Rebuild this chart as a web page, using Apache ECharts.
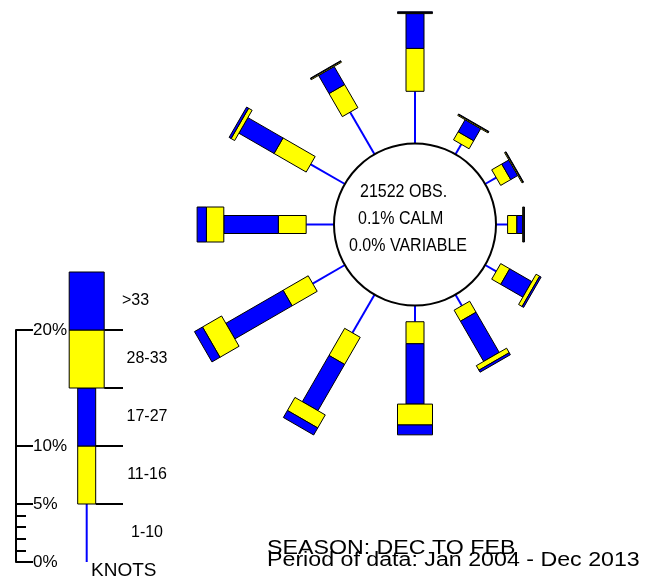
<!DOCTYPE html>
<html>
<head>
<meta charset="utf-8">
<script src="https://cdn.jsdelivr.net/npm/echarts@6/dist/echarts.min.js"></script>
<style>
  html, body { margin: 0; padding: 0; background: #fff; }
  #chart { width: 657px; height: 586px; }
</style>
</head>
<body>
<div id="chart"></div>
<script>
// Wind directions (degrees clockwise from north), 30-degree sectors
const ANGLES = [0, 30, 60, 90, 120, 150, 180, 210, 240, 270, 300, 330];

// Percentage frequency per speed class (knots) for each direction
const KT_1_10    = [4.5, 1.0, 1.1, 1.0, 1.1, 1.1, 1.4, 3.8, 3.2, 2.4, 3.4, 4.2];
const KT_11_16   = [3.7, 0.8, 1.0, 0.8, 0.9, 1.1, 1.9, 2.7, 2.5, 2.4, 3.2, 2.3];
const KT_17_27   = [3.0, 1.2, 0.7, 0.5, 2.2, 4.0, 5.2, 4.6, 5.7, 4.7, 3.5, 1.8];
const KT_28_33   = [0.1, 0.1, 0.1, 0.1, 0.35, 0.45, 1.8, 1.3, 1.9, 1.5, 0.35, 0.1];
const KT_OVER_33 = [0.05, 0.05, 0.05, 0.05, 0.15, 0.2, 0.85, 0.7, 0.8, 0.8, 0.2, 0.05];

// Speed-class key
const KEY_LABELS = ['1-10', '11-16', '17-27', '28-33', '>33'];
const KEY_STEPS = [0, 5, 10, 15, 20, 25];
const SCALE_LABEL_TICKS = [0, 5, 10, 20];
const SCALE_MINOR_TICKS = [1, 2, 3, 4];

// Summary text
const SUMMARY_LINES = ['21522 OBS.', '0.1% CALM', '0.0% VARIABLE'];
const TITLE_LINE = 'SEASON: DEC TO FEB';
const PERIOD_LINE = 'Period of data: Jan 2004 - Dec 2013';
const UNIT_LABEL = 'KNOTS';

const BANDS = [KT_1_10, KT_11_16, KT_17_27, KT_28_33, KT_OVER_33];
const BLUE = '#0000ff', YELLOW = '#ffff00';
const BAND_COLOR = [BLUE, YELLOW, BLUE, YELLOW, BLUE];
const BAND_WIDTH = [2, 18, 18, 35, 35];
const FONT = '"Liberation Sans", Arial, sans-serif';

const CX = 415, CY = 224.5, HOLE = 81;
const RADIAL_MAX = 30, PX_PER_PCT = 11.6;

// stacked segments: [start, angle, end, band]
const roseData = [];
ANGLES.forEach((a, i) => {
  let acc = 0;
  BANDS.forEach((arr, b) => {
    roseData.push([acc, a, acc + arr[i], b]);
    acc += arr[i];
  });
});

// key segments: [x, start, end, band]
const KEY_X = 70.7;
const keyData = KEY_LABELS.map((_, b) => [KEY_X, KEY_STEPS[b], KEY_STEPS[b + 1], b]);

function renderRose(params, api) {
  const s = api.value(0), a = api.value(1), e = api.value(2), b = api.value(3);
  const p0 = api.coord([s, a]);
  const p1 = api.coord([e, a]);
  const q0 = api.coord([0, a]);
  const q1 = api.coord([RADIAL_MAX, a]);
  let dx = q1[0] - q0[0], dy = q1[1] - q0[1];
  const len = Math.hypot(dx, dy);
  dx /= len; dy /= len;
  const nx = -dy, ny = dx;
  if (b === 0) {
    return {
      type: 'line',
      shape: { x1: p0[0], y1: p0[1], x2: p1[0], y2: p1[1] },
      style: { stroke: BLUE, lineWidth: 2 }
    };
  }
  const h = BAND_WIDTH[b] / 2;
  return {
    type: 'polygon',
    shape: {
      points: [
        [p0[0] + nx * h, p0[1] + ny * h],
        [p1[0] + nx * h, p1[1] + ny * h],
        [p1[0] - nx * h, p1[1] - ny * h],
        [p0[0] - nx * h, p0[1] - ny * h]
      ]
    },
    style: { fill: BAND_COLOR[b], stroke: '#000', lineWidth: 1 }
  };
}

const SEPARATOR_END_X = 123;
const KEY_TEXT_X = 147;

function renderKey(params, api) {
  const x = api.value(0), s = api.value(1), e = api.value(2), b = api.value(3);
  const p0 = api.coord([x, s]);
  const p1 = api.coord([x, e]);
  const pm = api.coord([x, (s + e) / 2]);
  const children = [];
  if (b === 0) {
    children.push({
      type: 'line',
      shape: { x1: p0[0], y1: p0[1], x2: p1[0], y2: p1[1] },
      style: { stroke: BLUE, lineWidth: 2 }
    });
  } else {
    const w = BAND_WIDTH[b];
    children.push({
      type: 'rect',
      shape: { x: p0[0] - w / 2, y: p1[1], width: w, height: p0[1] - p1[1] },
      style: { fill: BAND_COLOR[b], stroke: '#000', lineWidth: 1 }
    });
    children.push({
      type: 'line',
      shape: { x1: p0[0] + w / 2, y1: p0[1], x2: SEPARATOR_END_X, y2: p0[1] },
      style: { stroke: '#000', lineWidth: 2 }
    });
  }
  const isTop = b === KEY_LABELS.length - 1;
  children.push({
    type: 'text',
    x: isTop ? SEPARATOR_END_X - 1 : KEY_TEXT_X, y: pm[1],
    style: {
      text: KEY_LABELS[b], fill: '#000', font: '16px ' + FONT,
      textAlign: isTop ? 'left' : 'center', textVerticalAlign: 'middle'
    }
  });
  return { type: 'group', children: children };
}

const chart = echarts.init(document.getElementById('chart'), null, { renderer: 'canvas' });

const scaleAxisBase = {
  type: 'value', min: 0, max: 20, position: 'left',
  splitLine: { show: false }
};

chart.setOption({
  animation: false,
  backgroundColor: '#fff',
  polar: {
    center: [CX, CY],
    radius: [HOLE, HOLE + RADIAL_MAX * PX_PER_PCT]
  },
  radiusAxis: { type: 'value', min: 0, max: RADIAL_MAX, show: false },
  angleAxis: { type: 'value', min: 0, max: 360, startAngle: 90, clockwise: true, show: false },
  grid: { left: 16, top: 330, width: 150, height: 232 },
  xAxis: { type: 'value', min: 0, max: 150, show: false },
  yAxis: [
    Object.assign({}, scaleAxisBase, {
      axisLine: { show: true, lineStyle: { color: '#000', width: 2 } },
      axisTick: { show: true, inside: true, length: 17, customValues: SCALE_LABEL_TICKS,
                  lineStyle: { color: '#000', width: 2 } },
      axisLabel: {
        show: true, inside: true, margin: 17, customValues: SCALE_LABEL_TICKS,
        formatter: '{value}%', color: '#000', fontSize: 17, fontFamily: FONT
      }
    }),
    Object.assign({}, scaleAxisBase, {
      axisLine: { show: false },
      axisTick: { show: true, inside: true, length: 10, customValues: SCALE_MINOR_TICKS,
                  lineStyle: { color: '#000', width: 2 } },
      axisLabel: { show: false }
    })
  ],
  series: [
    {
      type: 'custom',
      coordinateSystem: 'polar',
      renderItem: renderRose,
      data: roseData,
      silent: true
    },
    {
      type: 'custom',
      coordinateSystem: 'cartesian2d',
      xAxisIndex: 0,
      yAxisIndex: 0,
      renderItem: renderKey,
      data: keyData,
      silent: true
    }
  ],
  graphic: [
    {
      type: 'circle', shape: { cx: CX, cy: CY, r: HOLE },
      style: { fill: '#fff', stroke: '#000', lineWidth: 2 }, z: 10
    },
    { type: 'text', x: 360, y: 191.5, z: 11, scaleY: 1.15,
      style: { text: SUMMARY_LINES[0], font: '16px ' + FONT, fill: '#000', textVerticalAlign: 'middle' } },
    { type: 'text', x: 358, y: 219, z: 11, scaleY: 1.15,
      style: { text: SUMMARY_LINES[1], font: '16px ' + FONT, fill: '#000', textVerticalAlign: 'middle' } },
    { type: 'text', x: 349, y: 245.5, z: 11, scaleY: 1.15,
      style: { text: SUMMARY_LINES[2], font: '16px ' + FONT, fill: '#000', textVerticalAlign: 'middle' } },
    { type: 'text', x: 91, y: 571, z: 11,
      style: { text: UNIT_LABEL, font: '19px ' + FONT, fill: '#000', textVerticalAlign: 'middle' } },
    { type: 'text', x: 267, y: 548, z: 11, scaleX: 1.16,
      style: { text: TITLE_LINE, font: '20px ' + FONT, fill: '#000', textVerticalAlign: 'middle' } },
    { type: 'text', x: 267, y: 560.5, z: 12, scaleX: 1.16,
      style: { text: PERIOD_LINE, font: '20px ' + FONT, fill: '#000', textVerticalAlign: 'middle' } }
  ]
});
</script>
</body>
</html>
